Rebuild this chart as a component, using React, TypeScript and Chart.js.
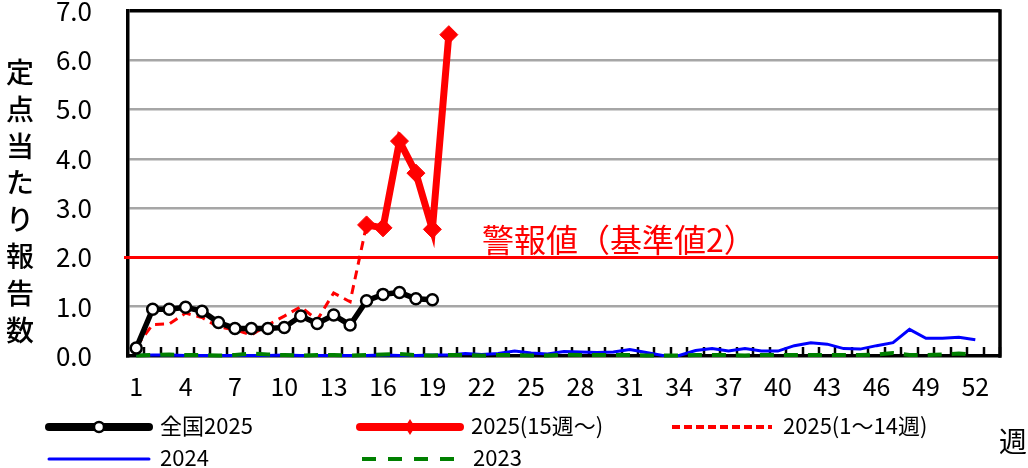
import { useEffect, useRef } from "react"
import { Chart, registerables, type Plugin } from "chart.js"

Chart.register(...registerables)

// week numbers on the x axis (53 slots, every 3rd one labelled)
const weeks = [
  "1", "2", "3", "4", "5", "6", "7", "8", "9", "10", "11", "12", "13", "14", "15", "16", "17", "18",
  "19", "20", "21", "22", "23", "24", "25", "26", "27", "28", "29", "30", "31", "32", "33", "34", "35",
  "36", "37", "38", "39", "40", "41", "42", "43", "44", "45", "46", "47", "48", "49", "50", "51", "52", "53",
]

// 全国2025, weeks 1-19
const national2025 = [0.16, 0.95, 0.95, 0.99, 0.91, 0.68, 0.56, 0.56, 0.56, 0.58, 0.81, 0.66, 0.83, 0.63, 1.12, 1.25, 1.29, 1.16, 1.14]
// 2025(15週～), weeks 15-20
const pref2025Late = [2.66, 2.6, 4.36, 3.71, 2.57, 6.52]
// 2025(1～14週), weeks 1-15 (last point joins the solid line)
const pref2025Early = [0.19, 0.64, 0.65, 0.87, 0.78, 0.59, 0.53, 0.43, 0.63, 0.81, 1.0, 0.73, 1.28, 1.1, 2.66]
// 2024, weeks 1-52
const pref2024 = [
  0.01, 0.02, 0.02, 0.01, 0.01, 0.01, 0.01, 0.01, 0.01, 0.02, 0.01, 0.01, 0.01, 0.01, 0.01, 0.02, 0.01, 0.01,
  0.02, 0.02, 0.05, 0.03, 0.05, 0.1, 0.06, 0.04, 0.09, 0.08, 0.07, 0.08, 0.13, 0.07, 0.01, 0.01, 0.11, 0.15,
  0.1, 0.15, 0.1, 0.1, 0.21, 0.27, 0.24, 0.15, 0.14, 0.21, 0.27, 0.54, 0.36, 0.36, 0.38, 0.33,
]
// 2023, weeks 1-52
const pref2023 = [
  0.01, 0.02, 0.03, 0.02, 0.02, 0.01, 0.02, 0.05, 0.03, 0.02, 0.01, 0.02, 0.02, 0.01, 0.02, 0.03, 0.04, 0.02,
  0.01, 0.02, 0.02, 0.01, 0.02, 0.02, 0.01, 0.01, 0.03, 0.02, 0.02, 0.02, 0.02, 0.01, 0.01, 0.01, 0.02, 0.02,
  0.02, 0.01, 0.02, 0.02, 0.02, 0.02, 0.02, 0.02, 0.02, 0.03, 0.06, 0.02, 0.02, 0.03, 0.05, 0.03,
]

const ALERT_LEVEL = 2
const ALERT_TEXT = "警報値（基準値2）"
const Y_TITLE = "定点当たり報告数"

const FONT = '"Noto Sans CJK JP", "Noto Sans", sans-serif'

// put a series that starts at a given week onto the 53 week slots
const place = (startWeek: number, vals: number[]) =>
  weeks.map((_, i) => (i - startWeek + 1 >= 0 && i - startWeek + 1 < vals.length ? vals[i - startWeek + 1] : null))

const decor: Plugin<"line"> = {
  id: "decor",
  beforeDatasetsDraw(chart) {
    const { ctx, chartArea: a, scales } = chart
    const x = scales.x
    const y = scales.y
    ctx.save()
    // right side of the frame
    ctx.strokeStyle = "#000"
    ctx.lineWidth = 3.5
    ctx.beginPath()
    ctx.moveTo(a.right, a.top - 1.75)
    ctx.lineTo(a.right, a.bottom + 1.75)
    ctx.stroke()
    // small inner ticks between the weeks
    ctx.lineWidth = 2.5
    for (let i = 1; i <= weeks.length; i++) {
      const px = Math.round(x.getPixelForValue(i - 0.5))
      ctx.beginPath()
      ctx.moveTo(px, a.bottom)
      ctx.lineTo(px, a.bottom - 9)
      ctx.stroke()
    }
    // alert line + label
    const py = y.getPixelForValue(ALERT_LEVEL)
    ctx.strokeStyle = "#FF0000"
    ctx.lineWidth = 3
    ctx.beginPath()
    ctx.moveTo(a.left - 4, py)
    ctx.lineTo(a.right - 2, py)
    ctx.stroke()
    ctx.fillStyle = "#FF0000"
    ctx.font = `32px ${FONT}`
    ctx.textBaseline = "alphabetic"
    ctx.fillText(ALERT_TEXT, 482, py - 5)
    ctx.restore()
  },
}

function Swatch({ color, width, dash, marker }: { color: string; width: number; dash?: string; marker?: "circle" | "diamond" }) {
  return (
    <svg width={110} height={22} style={{ display: "block" }}>
      <line x1={5} y1={11} x2={105} y2={11} stroke={color} strokeWidth={width} strokeDasharray={dash} strokeLinecap={dash ? "butt" : "round"} />
      {marker === "circle" && <circle cx={55} cy={11} r={5} fill="#fff" stroke="#000" strokeWidth={2.5} />}
      {marker === "diamond" && <polygon points="55,3 60,11 55,19 50,11" fill={color} />}
    </svg>
  )
}

const legendItems = [
  { label: "全国2025", left: 44, top: 416, color: "#000", width: 8, marker: "circle" as const },
  { label: "2025(15週～)", left: 355, top: 416, color: "#FF0000", width: 8, marker: "diamond" as const },
  { label: "2025(1～14週)", left: 667, top: 416, color: "#FF0000", width: 4, dash: "8 4" },
  { label: "2024", left: 44, top: 448, color: "#0000FF", width: 3 },
  { label: "2023", left: 357, top: 448, color: "#008000", width: 4, dash: "14 12" },
]

export default function App() {
  const chartRef = useRef<HTMLCanvasElement | null>(null)
  const chartInstanceRef = useRef<Chart | null>(null)

  useEffect(() => {
    if (!chartRef.current) return
    if (chartInstanceRef.current) chartInstanceRef.current.destroy()

    chartInstanceRef.current = new Chart(chartRef.current, {
      type: "line",
      data: {
        labels: weeks,
        datasets: [
          {
            label: "全国2025",
            data: place(1, national2025),
            borderColor: "#000",
            borderWidth: 5.5,
            pointRadius: 5.5,
            pointBackgroundColor: "#fff",
            pointBorderColor: "#000",
            pointBorderWidth: 2.5,
            clip: false,
          },
          {
            label: "2025(15週～)",
            data: place(15, pref2025Late),
            borderColor: "#FF0000",
            borderWidth: 7,
            pointStyle: "rectRot",
            pointRadius: 9,
            pointBackgroundColor: "#FF0000",
            pointBorderColor: "#FF0000",
            pointBorderWidth: 1,
            clip: false,
          },
          {
            label: "2025(1～14週)",
            data: place(1, pref2025Early),
            borderColor: "#FF0000",
            borderWidth: 3,
            borderDash: [9, 6],
            pointRadius: 0,
            clip: false,
          },
          {
            label: "2023",
            data: place(1, pref2023),
            borderColor: "#008000",
            borderWidth: 4,
            borderDash: [14, 10],
            pointRadius: 0,
            clip: false,
          },
          {
            label: "2024",
            data: place(1, pref2024),
            borderColor: "#0000FF",
            borderWidth: 3,
            pointRadius: 0,
            clip: false,
          },
        ],
      },
      options: {
        animation: false,
        responsive: false,
        layout: { padding: { left: 0, top: 11, right: 28, bottom: 0 } },
        plugins: { legend: { display: false }, tooltip: { enabled: false } },
        scales: {
          x: {
            offset: true,
            grid: { display: false, drawTicks: false },
            border: { display: true, color: "#000", width: 3.5 },
            ticks: {
              autoSkip: false,
              maxRotation: 0,
              padding: 15,
              color: "#000",
              font: { family: FONT, size: 25 },
              callback: (_v, i) => (i % 3 === 0 ? weeks[i] : ""),
            },
            afterFit: (s) => {
              s.height = 112
              s.paddingLeft = 0
              s.paddingRight = 0
            },
          },
          y: {
            min: 0,
            max: 7,
            grid: {
              drawTicks: false,
              color: (c) => (c.tick.value === 7 ? "#000" : c.tick.value === 0 ? "rgba(0,0,0,0)" : "#A6A6A6"),
              lineWidth: (c) => (c.tick.value === 7 ? 3.5 : 2.5),
            },
            border: { color: "#000", width: 3.5 },
            ticks: {
              stepSize: 1,
              padding: 36,
              color: "#000",
              font: { family: FONT, size: 26 },
              callback: (v) => Number(v).toFixed(1),
            },
            afterFit: (s) => {
              s.width = 128
              s.paddingTop = 0
              s.paddingBottom = 0
            },
          },
        },
      },
      plugins: [decor],
    })

    return () => {
      if (chartInstanceRef.current) {
        chartInstanceRef.current.destroy()
        chartInstanceRef.current = null
      }
    }
  }, [])

  return (
    <div style={{ position: "absolute", left: 0, top: 0, width: 1028, height: 468, background: "#fff", fontFamily: FONT, color: "#000", overflow: "hidden" }}>
      <canvas ref={chartRef} width={1028} height={468} style={{ position: "absolute", left: 0, top: 0 }}></canvas>

      {/* y axis title, one character per line */}
      <div style={{ position: "absolute", left: 4, top: 53, width: 32, display: "flex", flexDirection: "column", alignItems: "center" }}>
        {Y_TITLE.split("").map((ch, i) => (
          <span key={i} style={{ fontSize: 28, lineHeight: "36.8px", height: 36.8, fontWeight: 500 }}>
            {ch}
          </span>
        ))}
      </div>

      {legendItems.map((it) => (
        <div key={it.label} style={{ position: "absolute", left: it.left, top: it.top, display: "flex", alignItems: "center", height: 22 }}>
          <Swatch color={it.color} width={it.width} dash={it.dash} marker={it.marker} />
          <span style={{ fontSize: 22, marginLeft: 6, whiteSpace: "nowrap", lineHeight: "22px", position: "relative", top: -3 }}>{it.label}</span>
        </div>
      ))}

      <div style={{ position: "absolute", left: 999, top: 424, fontSize: 28, lineHeight: "32px" }}>週</div>
    </div>
  )
}
